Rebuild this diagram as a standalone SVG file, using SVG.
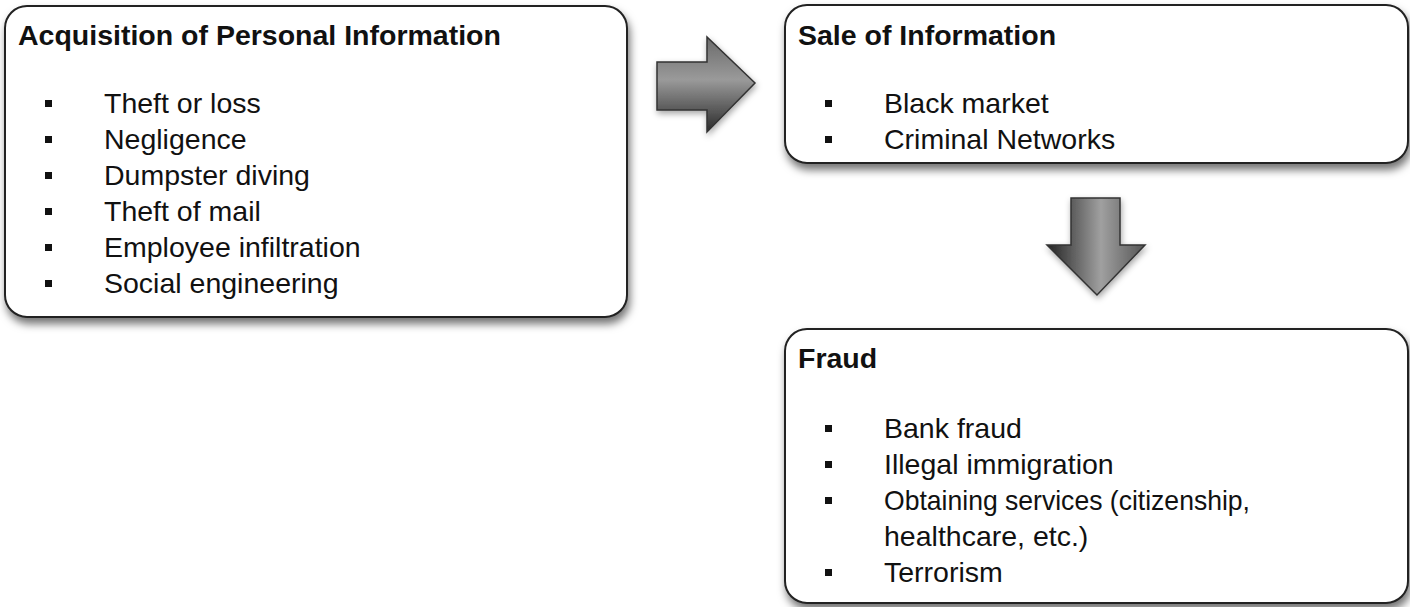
<svg xmlns="http://www.w3.org/2000/svg" width="1410" height="607" viewBox="0 0 1410 607">
<style>
.box{fill:#fff;stroke:#222;stroke-width:2}
.title{font-family:"Liberation Sans",Arial,sans-serif;font-weight:bold;font-size:28.5px;fill:#111}
.item{font-family:"Liberation Sans",Arial,sans-serif;font-size:28.5px;fill:#111}
.bul{fill:#111}
.arrow{stroke:#333;stroke-width:1.5}
</style>
<defs>
<filter id="sh" x="-5%" y="-5%" width="115%" height="125%">
<feDropShadow dx="2" dy="6" stdDeviation="4" flood-color="#000" flood-opacity="0.55"/>
</filter>
<filter id="ash" x="-20%" y="-20%" width="150%" height="150%">
<feDropShadow dx="1" dy="3" stdDeviation="3" flood-color="#000" flood-opacity="0.35"/>
</filter>
<linearGradient id="gr" x1="0" y1="0" x2="0" y2="1">
<stop offset="0" stop-color="#6a6a6a"/>
<stop offset="0.45" stop-color="#9a9a9a"/>
<stop offset="1" stop-color="#2a2a2a"/>
</linearGradient>
<linearGradient id="gd" x1="0" y1="0" x2="1" y2="0">
<stop offset="0" stop-color="#222"/>
<stop offset="0.55" stop-color="#a0a0a0"/>
<stop offset="1" stop-color="#555"/>
</linearGradient>
</defs>
<g id="acquisition">
<rect class="box" x="5" y="6" width="622" height="311" rx="22" filter="url(#sh)"/>
<text class="title" x="18" y="45">Acquisition of Personal Information</text>
<rect class="bul" x="45" y="100" width="7" height="7"/>
<rect class="bul" x="45" y="136" width="7" height="7"/>
<rect class="bul" x="45" y="172" width="7" height="7"/>
<rect class="bul" x="45" y="208" width="7" height="7"/>
<rect class="bul" x="45" y="244" width="7" height="7"/>
<rect class="bul" x="45" y="280" width="7" height="7"/>
<text class="item" x="104" y="113">Theft or loss</text>
<text class="item" x="104" y="149">Negligence</text>
<text class="item" x="104" y="185">Dumpster diving</text>
<text class="item" x="104" y="221">Theft of mail</text>
<text class="item" x="104" y="257">Employee infiltration</text>
<text class="item" x="104" y="293">Social engineering</text>
</g>
<g id="sale">
<rect class="box" x="785" y="5" width="623" height="158" rx="22" filter="url(#sh)"/>
<text class="title" x="798" y="45">Sale of Information</text>
<rect class="bul" x="825" y="100" width="7" height="7"/>
<rect class="bul" x="825" y="136" width="7" height="7"/>
<text class="item" x="884" y="113">Black market</text>
<text class="item" x="884" y="149">Criminal Networks</text>
</g>
<g id="fraud">
<rect class="box" x="785" y="329" width="623" height="274" rx="22" filter="url(#sh)"/>
<text class="title" x="798" y="368">Fraud</text>
<rect class="bul" x="825" y="425" width="7" height="7"/>
<rect class="bul" x="825" y="461" width="7" height="7"/>
<rect class="bul" x="825" y="497" width="7" height="7"/>
<rect class="bul" x="825" y="569" width="7" height="7"/>
<text class="item" x="884" y="438">Bank fraud</text>
<text class="item" x="884" y="474">Illegal immigration</text>
<text class="item" x="884" y="510" textLength="366" lengthAdjust="spacingAndGlyphs">Obtaining services (citizenship,</text>
<text class="item" x="884" y="546">healthcare, etc.)</text>
<text class="item" x="884" y="582">Terrorism</text>
</g>
<g id="connectors">
<polygon class="arrow" fill="url(#gr)" filter="url(#ash)" points="657,62 707,62 707,37 755,83 707,132 707,110 657,110"/>
<polygon class="arrow" fill="url(#gd)" filter="url(#ash)" points="1071,198 1120,198 1120,245 1145,245 1097,295 1047,245 1071,245"/>
</g>
</svg>
